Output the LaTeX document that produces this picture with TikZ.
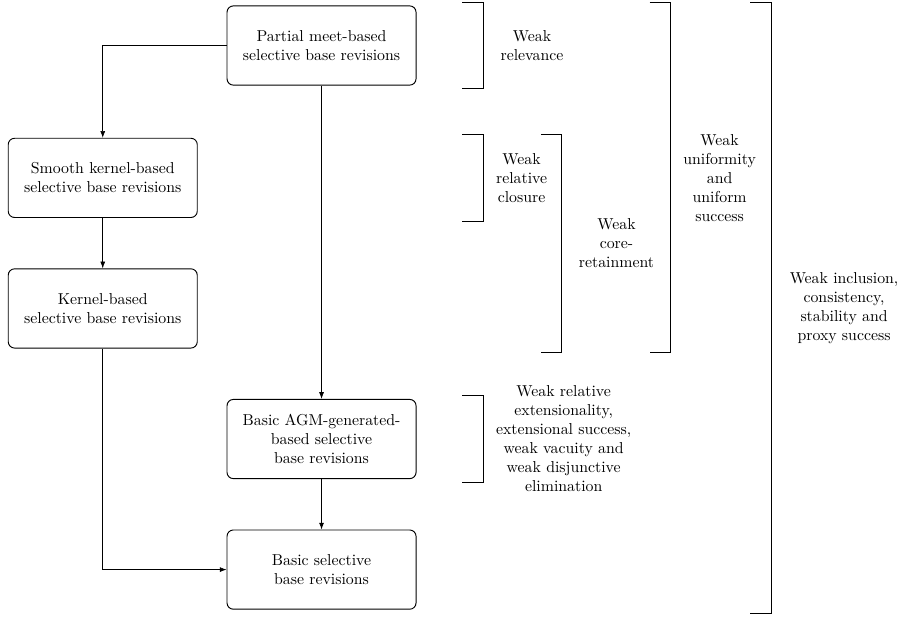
\documentclass[tikz,border=0pt]{standalone}
\usepackage{tikz}
\usetikzlibrary{arrows.meta,positioning,calc}
\tikzset{
  revbox/.style={
    draw,
    rounded corners=4pt,
    semithick,
    align=center,
    inner sep=4pt,
    minimum width=4.2cm,
    minimum height=1.76cm
  },
  note/.style={align=center, inner sep=2pt},
  flow/.style={-{Latex[length=1.5mm,width=1.1mm]}},
  bracket/.style={semithick}
}

\begin{document}
\begin{tikzpicture}[node distance=1.12cm and 0.64cm]
\useasboundingbox (0,0) rectangle (19.93,-13.71);

\node[revbox] (partial) at (7.144,-1.011) {Partial meet-based\\selective base revisions};
\node[revbox, below left=1.16cm and 0.64cm of partial] (smooth) {Smooth kernel-based\\selective base revisions};
\node[revbox, below=of smooth] (kernel) {Kernel-based\\selective base revisions};
\node[revbox, below right=of kernel] (agm) {Basic AGM-generated-\\based selective\\base revisions};
\node[revbox, below=of agm] (basic) {Basic selective\\base revisions};

\draw[flow] (partial.west) -| (smooth.north);
\draw[flow] (partial) -- (agm);
\draw[flow] (smooth) -- (kernel);
\draw[flow] (kernel) |- (basic.west);
\draw[flow] (agm) -- (basic);

% brackets
\draw[bracket] ($(partial.north east)+(1.02,0.07)$) -- ++(0.47,0) coordinate (relT) |- ($(partial.south east)+(1.02,-0.07)$) coordinate (relB);
\node[note, right=0.3cm of relT |- partial.east] (relevance) {Weak\\relevance};

\draw[bracket] ($(partial.east |- smooth.north)+(1.02,0.08)$) -- ++(0.47,0) coordinate (cloT) |- ($(partial.east |- smooth.south)+(1.02,-0.08)$);
\node[note, right=0.2cm of cloT |- smooth.east] (closure) {Weak\\relative\\closure};

\draw[bracket] ($(partial.east |- smooth.north)+(2.76,0.08)$) -- ++(0.47,0) coordinate (coreT) |- ($(partial.east |- kernel.south)+(2.76,-0.08)$) coordinate (coreB);
\node[note, right=0.3cm of $(coreT)!0.5!(coreT |- coreB)$] (core) {Weak\\core-\\retainment};

\draw[bracket] ($(partial.north east)+(5.18,0.07)$) -- ++(0.47,0) coordinate (uniT) |- ($(partial.east |- kernel.south)+(5.18,-0.08)$);
\node[note, right=0.2cm of uniT |- smooth.east] (uniform) {Weak\\uniformity\\and\\uniform\\success};

\draw[bracket] ($(partial.north east)+(7.42,0.07)$) -- ++(0.47,0) coordinate (incT) |- ($(partial.east |- basic.south)+(7.42,-0.09)$) coordinate (incB);
\node[note, inner sep=1pt, right=0.36cm of $(incT)!0.5!(incT |- incB)$] (inclusion) {Weak inclusion,\\consistency,\\stability and\\proxy success};

\draw[bracket] ($(agm.north east)+(1.02,0.08)$) -- ++(0.47,0) coordinate (extT) |- ($(agm.south east)+(1.02,-0.07)$);
\node[note, right=0.2cm of extT |- agm.east] (extension) {Weak relative\\extensionality,\\extensional success,\\weak vacuity and\\weak disjunctive\\elimination};
\end{tikzpicture}
\end{document}
